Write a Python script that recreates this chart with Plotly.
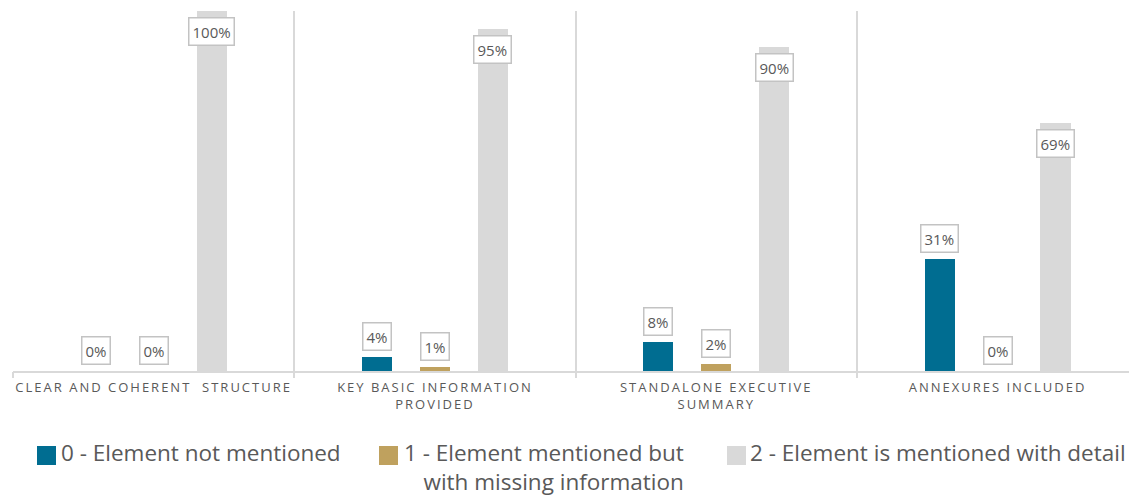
import plotly.graph_objects as go

# ---- data ----
categories = [
    "CLEAR AND COHERENT  STRUCTURE",
    "KEY BASIC INFORMATION<br>PROVIDED",
    "STANDALONE EXECUTIVE<br>SUMMARY",
    "ANNEXURES INCLUDED",
]
series_names = [
    "0 - Element not mentioned",
    "1 - Element mentioned but<br>with missing information",
    "2 - Element is mentioned with detail",
]
not_mentioned = [0, 4, 8, 31]
missing_info = [0, 1, 2, 0]
with_detail = [100, 95, 90, 69]

# ---- style ----
colors = ["#006D91", "#BFA15E", "#D9D9D9"]
text_color = "#595959"
grid_color = "#D9D9D9"
font_family = "Open Sans, Noto Sans, sans-serif"

W, H = 1129, 497
ML, MR, MT, MB = 13, 0, 11, 126
PW, PH = W - ML - MR, H - MT - MB
cat_px = 281.3                      # width of one category band in pixels
x_max = -0.5 + PW / cat_px          # plot runs past the last band edge

slot = 0.206                        # distance between bars inside a group
bar_w = 0.107

series_values = [not_mentioned, missing_info, with_detail]
# the detail series sits on the overlaid axis that carries the band separators
series_axis = ["x", "x", "x2"]
x_idx = list(range(len(categories)))

fig = go.Figure()
for k, (name, vals, col, ax) in enumerate(zip(series_names, series_values, colors, series_axis)):
    off = (k - 1) * slot
    fig.add_trace(go.Bar(
        x=x_idx, y=vals, name=name, xaxis=ax, yaxis="y",
        width=bar_w, offset=off - bar_w / 2,
        marker=dict(color=col, line_width=0),
        showlegend=False, hoverinfo="skip",
    ))
    inside = k == 2  # tall grey bars carry their label inside the top end
    for i, v in enumerate(vals):
        fig.add_annotation(
            x=i + off, y=v, xref="x", yref="y",
            text=f"{v}%", showarrow=False,
            yanchor="top" if inside else "bottom",
            yshift=-6 if inside else 6,
            bgcolor="white", bordercolor="#C3C3C3", borderwidth=1.5, borderpad=3,
            font=dict(family=font_family, size=15, color=text_color),
        )

band_edges = [i - 0.5 for i in range(len(categories) + 1)]

fig.update_layout(
    width=W, height=H,
    margin=dict(l=ML, r=MR, t=MT, b=MB),
    paper_bgcolor="white", plot_bgcolor="white",
    font=dict(family=font_family, color=text_color),
    xaxis=dict(
        range=[-0.5, x_max], tickmode="array", tickvals=x_idx, ticktext=categories,
        showgrid=False, zeroline=False, ticks="",
        showline=True, linecolor=grid_color, linewidth=1.5,
        tickfont=dict(family=font_family, size=13, color=text_color),
        ticklabelstandoff=4,
    ),
    xaxis2=dict(
        overlaying="x", anchor="y", side="bottom",
        range=[-0.5, x_max], tickmode="array", tickvals=band_edges,
        showticklabels=False, showgrid=True, gridcolor=grid_color, gridwidth=1.5,
        ticks="outside", ticklen=6, tickcolor=grid_color, tickwidth=1.5,
        zeroline=False, showline=False,
    ),
    yaxis=dict(range=[0, 100], visible=False, showgrid=False, zeroline=False),
    bargap=0,
)


# ---- legend, drawn from the series list ----
def px_x(x):
    return (x - ML) / PW


def px_y(y):
    return (MT + PH - y) / PH


legend_items = [
    # square left, text left
    (37, 60),
    (379, 403),
    (727, 749),
]
sq = 19
sq_top = 446
for (sx, tx), name, col in zip(legend_items, series_names, colors):
    fig.add_shape(
        type="rect", xref="paper", yref="paper",
        x0=px_x(sx), x1=px_x(sx + sq), y0=px_y(sq_top + sq), y1=px_y(sq_top),
        fillcolor=col, line_width=0,
    )
    fig.add_annotation(
        x=px_x(tx), y=px_y(sq_top - 10), xref="paper", yref="paper",
        xanchor="left", yanchor="top", align="right", borderpad=0,
        text=name, showarrow=False,
        font=dict(family=font_family, size=22.5, color=text_color),
    )

fig.write_html(
    "out.html",
    post_script="document.querySelectorAll('.xtick text').forEach(function(t){t.style.letterSpacing='2px';});",
)
